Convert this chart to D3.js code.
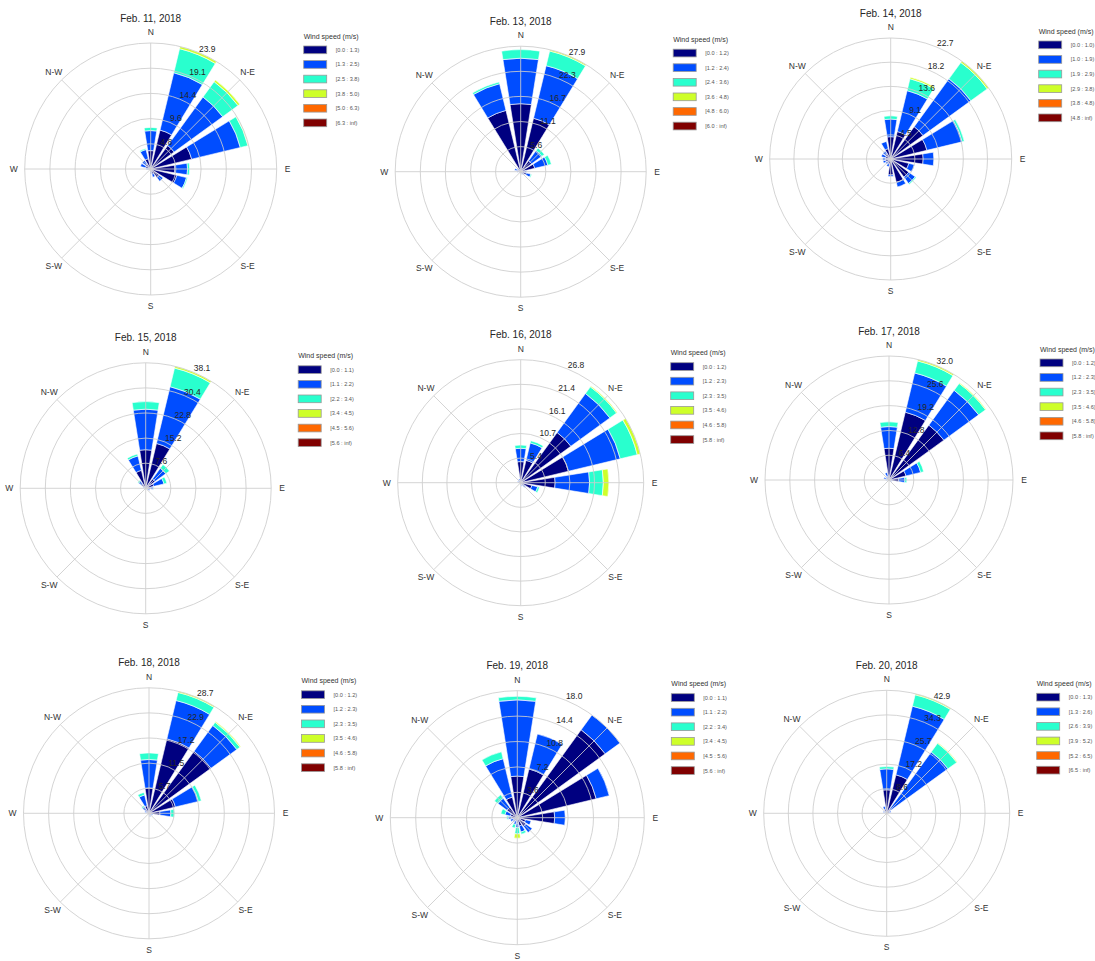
<!DOCTYPE html>
<html>
<head>
<meta charset="utf-8">
<script src="https://cdn.jsdelivr.net/npm/d3@7"></script>
<style>
body { margin: 0; background: #fff; }
svg { display: block; font-family: "Liberation Sans", Arial, sans-serif; }
</style>
</head>
<body>
<svg id="chart" width="1095" height="961"></svg>
<script>
// 16 sectors, clockwise from north
var directions = ["N", "NNE", "NE", "ENE", "E", "ESE", "SE", "SSE",
    "S", "SSW", "SW", "WSW", "W", "WNW", "NW", "NNW"];
var compassLabels = ["N", "N-E", "E", "S-E", "S", "S-W", "W", "N-W"];
var dates = ["Feb. 11, 2018", "Feb. 13, 2018", "Feb. 14, 2018",
    "Feb. 15, 2018", "Feb. 16, 2018", "Feb. 17, 2018",
    "Feb. 18, 2018", "Feb. 19, 2018", "Feb. 20, 2018"];

// speed bins (m/s) of each day
var feb11Bins = ["[0.0 : 1.3)", "[1.3 : 2.5)", "[2.5 : 3.8)", "[3.8 : 5.0)", "[5.0 : 6.3)", "[6.3 : inf)"];
var feb13Bins = ["[0.0 : 1.2)", "[1.2 : 2.4)", "[2.4 : 3.6)", "[3.6 : 4.8)", "[4.8 : 6.0)", "[6.0 : inf)"];
var feb14Bins = ["[0.0 : 1.0)", "[1.0 : 1.9)", "[1.9 : 2.9)", "[2.9 : 3.8)", "[3.8 : 4.8)", "[4.8 : inf)"];
var feb15Bins = ["[0.0 : 1.1)", "[1.1 : 2.2)", "[2.2 : 3.4)", "[3.4 : 4.5)", "[4.5 : 5.6)", "[5.6 : inf)"];
var feb16Bins = ["[0.0 : 1.2)", "[1.2 : 2.3)", "[2.3 : 3.5)", "[3.5 : 4.6)", "[4.6 : 5.8)", "[5.8 : inf)"];
var feb17Bins = ["[0.0 : 1.2)", "[1.2 : 2.3)", "[2.3 : 3.5)", "[3.5 : 4.6)", "[4.6 : 5.8)", "[5.8 : inf)"];
var feb18Bins = ["[0.0 : 1.2)", "[1.2 : 2.3)", "[2.3 : 3.5)", "[3.5 : 4.6)", "[4.6 : 5.8)", "[5.8 : inf)"];
var feb19Bins = ["[0.0 : 1.1)", "[1.1 : 2.2)", "[2.2 : 3.4)", "[3.4 : 4.5)", "[4.5 : 5.6)", "[5.6 : inf)"];
var feb20Bins = ["[0.0 : 1.3)", "[1.3 : 2.6)", "[2.6 : 3.9)", "[3.9 : 5.2)", "[5.2 : 6.5)", "[6.5 : inf)"];

// frequency (%) per sector, one value per speed bin (missing = 0)
var feb11 = [[3.5, 3.8, 0.6], [7.6, 11.2, 4.7, 0.43], [5.5, 11.4, 3.6, 0.4], [8.0, 9.5, 1.5, 0.1],
    [4.6, 2.4, 0.4], [5.1, 1.9, 0.2], [2.0, 0.9], [1.0, 0.6],
    [0.6, 0.3], [0.3], [0.2], [0.3],
    [0.5, 0.3], [1.0, 1.0], [1.2, 0.8], [2.0, 1.8, 0.2]];
var feb13 = [[15.1, 10.1, 1.9], [12.2, 12.0, 3.36, 0.3], [3.0, 2.8, 0.7], [3.2, 3.0, 0.8],
    [0.8, 0.5], [1.3, 1.0, 0.2], [0.5, 0.3], [0.4, 0.2],
    [0.3], [0.2], [0.2], [0.3, 0.1],
    [0.5, 0.3], [0.8, 0.6], [0.6, 0.3], [14.0, 6.1, 0.4]];
var feb14 = [[4.2, 3.3, 0.6], [5.3, 7.9, 2.3, 0.3], [7.5, 11.1, 3.8, 0.32], [7.0, 6.8, 0.4],
    [6.1, 2.0], [3.5, 1.1], [4.2, 1.5, 0.2], [4.5, 0.9],
    [3.0, 0.3], [1.0, 0.5], [0.8, 0.4], [1.0, 0.5],
    [1.0, 0.5], [1.0, 0.8], [1.2, 0.6], [2.0, 1.4]];
var feb15 = [[11.7, 12.3, 2.3], [14.0, 17.7, 5.8, 0.558], [3.5, 4.0, 1.4], [2.5, 3.2, 0.9],
    [1.5, 0.8, 0.2], [0.8, 0.5], [0.3], [0.2],
    [0.2], [0.1], [0.1], [0.1],
    [0.2], [0.5, 0.3], [1.5, 1.2, 0.3], [5.6, 4.5, 0.6]];
var feb16 = [[4.6, 2.9, 0.7], [5.0, 3.9, 0.5], [13.5, 10.5, 1.8, 0.2], [10.7, 11.6, 3.8, 0.68],
    [7.5, 7.5, 3.0, 1.2], [2.5, 1.3, 0.4], [0.8, 0.5], [0.5, 0.3],
    [0.4], [0.3], [0.2], [0.2],
    [0.4], [0.5, 0.2], [0.4, 0.2], [0.6, 0.3]];
var feb17 = [[8.2, 5.6, 1.2], [18.0, 10.4, 3.2, 0.4], [17.5, 11.1, 2.2, 0.2], [4.5, 3.9, 0.8],
    [2.5, 1.6, 0.5], [0.5, 0.3], [0.3], [0.3],
    [0.2], [0.1], [0.1], [0.2],
    [0.5, 0.3], [0.8, 0.6], [0.6, 0.3], [1.0, 1.0]];
var feb18 = [[5.8, 6.5, 1.5], [17.5, 9.0, 1.9, 0.27], [17.5, 7.3, 0.9, 0.2], [6.2, 5.4, 0.7],
    [2.5, 2.5, 0.8], [0.6, 0.3], [0.4], [0.5, 0.3],
    [0.3], [0.2], [0.1], [0.2],
    [0.3], [0.6, 0.4], [1.0, 0.8, 0.3], [1.8, 2.5, 0.6]];
var feb19 = [[5.9, 10.8, 0.5], [7.1, 5.1], [15.4, 2.6], [11.5, 1.9],
    [5.3, 1.5], [1.2, 0.8], [1.5, 1.1], [1.2, 0.9, 0.3],
    [0.8, 0.6, 0.9, 0.6], [0.5, 0.5, 0.5], [0.5, 0.3], [0.6, 0.4],
    [0.8, 0.5, 0.2], [1.0, 0.8, 0.6], [1.8, 1.6, 0.6], [3.0, 5.6, 1.0]];
var feb20 = [[8.2, 7.3, 0.8], [13.8, 24.6, 4.1, 0.38], [1.5, 24.9, 3.8, 0.2], [1.0, 0.6],
    [0.5], [0.3], [0.2], [0.2],
    [0.1], [0.1], [0.1], [0.1],
    [0.3], [0.8, 0.5], [0.6, 0.3], [1.5, 1.0]];

var freqs = [feb11, feb13, feb14, feb15, feb16, feb17, feb18, feb19, feb20];
var binLabels = [feb11Bins, feb13Bins, feb14Bins, feb15Bins, feb16Bins, feb17Bins, feb18Bins, feb19Bins, feb20Bins];

// panel placement: center x, center y, radius
var panelLayout = [
    [150.7, 169.0, 126], [520.7, 171.7, 125.5], [890.7, 159.0, 121],
    [145.7, 488.3, 125.5], [520.7, 482.7, 123], [889.0, 480.0, 124],
    [149.0, 813.3, 125.5], [517.3, 817.7, 127], [886.7, 813.3, 123]];

var jet = ["#000080", "#004dff", "#29ffce", "#ceff29", "#ff6800", "#800000"];

var svg = d3.select("#chart");

function windrose(title, bins, freq, layout) {
    var cx = layout[0], cy = layout[1], R = layout[2];
    var nbins = bins.length;

    var rows = freq.map(function (row) {
        return d3.range(nbins).map(function (i) { return row[i] || 0; });
    });
    var rmax = d3.max(rows, function (row) { return d3.sum(row); });

    var r = d3.scaleLinear().domain([0, rmax]).range([0, R]);
    var angle = d3.scaleLinear().domain([0, directions.length]).range([0, 2 * Math.PI]);
    var half = angle(1) * 0.8 / 2;

    var series = d3.stack().keys(d3.range(nbins))(rows);

    var g = svg.append("g")
        .attr("transform", "translate(" + cx + "," + cy + ")");

    var arc = d3.arc();

    // bars
    g.append("g")
        .selectAll("g")
        .data(series)
        .enter().append("g")
        .attr("fill", function (d, i) { return jet[i]; })
        .selectAll("path")
        .data(function (s) {
            return s.map(function (p, i) { return { p: p, i: i }; })
                .filter(function (d) { return d.p[1] > d.p[0]; });
        })
        .enter().append("path")
        .attr("stroke", "#fff")
        .attr("stroke-width", 0.6)
        .attr("d", function (d) {
            return arc({
                innerRadius: r(d.p[0]),
                outerRadius: r(d.p[1]),
                startAngle: angle(d.i) - half,
                endAngle: angle(d.i) + half
            });
        });

    // grid (drawn over the bars)
    var ticks = d3.range(1, 6).map(function (k) { return rmax * k / 5; });
    var grid = g.append("g")
        .attr("fill", "none")
        .attr("stroke", "#cccccc")
        .attr("stroke-opacity", 0.85)
        .attr("stroke-width", 1);
    grid.selectAll("circle")
        .data(ticks)
        .enter().append("circle")
        .attr("r", function (d) { return r(d); });
    grid.selectAll("line")
        .data(compassLabels)
        .enter().append("line")
        .attr("x1", 0).attr("y1", 0)
        .attr("x2", function (d, i) { return R * Math.sin(i * Math.PI / 4); })
        .attr("y2", function (d, i) { return -R * Math.cos(i * Math.PI / 4); });

    // compass labels
    g.append("g")
        .selectAll("text")
        .data(compassLabels)
        .enter().append("text")
        .attr("x", function (d, i) { return (R + 11) * Math.sin(i * Math.PI / 4); })
        .attr("y", function (d, i) { return -(R + 11) * Math.cos(i * Math.PI / 4); })
        .attr("text-anchor", "middle")
        .attr("dominant-baseline", "central")
        .attr("font-size", 8.5)
        .attr("fill", "#333")
        .text(function (d) { return d; });

    // radial tick labels along the NNE line
    var a = angle(1);
    g.append("g")
        .selectAll("text")
        .data(ticks)
        .enter().append("text")
        .attr("x", function (d) { return r(d) * Math.sin(a); })
        .attr("y", function (d) { return -r(d) * Math.cos(a) - 1; })
        .attr("font-size", 8.5)
        .attr("fill", "#262626")
        .text(function (d) { return d3.format(".1f")(d); });

    // title
    svg.append("text")
        .attr("x", cx)
        .attr("y", cy - R - 25)
        .attr("text-anchor", "middle")
        .attr("dominant-baseline", "central")
        .attr("font-size", 10)
        .attr("fill", "#262626")
        .text(title);

    // legend
    var lg = svg.append("g")
        .attr("transform", "translate(" + (cx + R + 27) + "," + (cy - R - 7) + ")");
    lg.append("text")
        .attr("dominant-baseline", "central")
        .attr("font-size", 7)
        .attr("fill", "#333")
        .text("Wind speed (m/s)");
    var item = lg.selectAll("g")
        .data(bins)
        .enter().append("g")
        .attr("transform", function (d, i) { return "translate(0," + (10 + i * 14.6) + ")"; });
    item.append("rect")
        .attr("width", 23)
        .attr("height", 7.7)
        .attr("fill", function (d, i) { return jet[i]; })
        .attr("stroke", "#999")
        .attr("stroke-width", 0.8);
    item.append("text")
        .attr("x", 32)
        .attr("y", 3.85)
        .attr("dominant-baseline", "central")
        .attr("font-size", 5.6)
        .attr("fill", "#555")
        .text(function (d) { return d; });
}

dates.forEach(function (title, k) {
    windrose(title, binLabels[k], freqs[k], panelLayout[k]);
});
</script>
</body>
</html>
